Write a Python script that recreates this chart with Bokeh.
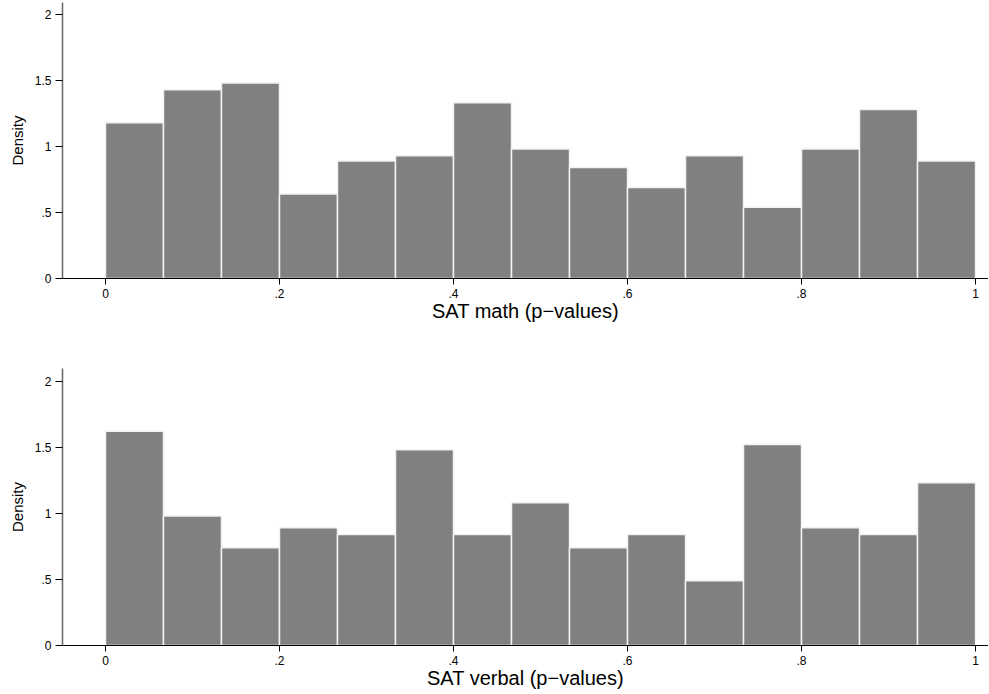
import numpy as np
from bokeh.plotting import figure
from bokeh.layouts import column
from bokeh.models import Range1d, FixedTicker, ColumnDataSource
from bokeh.embed import file_html
from bokeh.resources import INLINE

# ---- data (densities) ----
n_bins = 15
math_density = [1.18, 1.43, 1.48, 0.64, 0.89, 0.93, 1.33, 0.98, 0.84, 0.69, 0.93, 0.54, 0.98, 1.28, 0.89]
verbal_density = [1.62, 0.98, 0.74, 0.89, 0.84, 1.48, 0.84, 1.08, 0.74, 0.84, 0.49, 1.52, 0.89, 0.84, 1.23]
x_ticks = [0, 0.2, 0.4, 0.6, 0.8, 1.0]
x_tick_labels = ["0", ".2", ".4", ".6", ".8", "1"]
y_ticks = [0, 0.5, 1.0, 1.5, 2.0]
y_tick_labels = ["0", ".5", "1", "1.5", "2"]
titles = ["SAT math (p\u2212values)", "SAT verbal (p\u2212values)"]

FONT = "Liberation Sans"
edges = np.linspace(0, 1, n_bins + 1)


def make_panel(dens, xlabel, height, y_end, top_border, bottom_border):
    p = figure(width=988, height=height, output_backend="svg", toolbar_location=None,
               x_range=Range1d(-0.0494, 1.0149), y_range=Range1d(0, y_end),
               min_border_left=62, min_border_right=0,
               min_border_top=top_border, min_border_bottom=bottom_border)
    src = ColumnDataSource(dict(left=edges[:-1], right=edges[1:], top=dens,
                                bottom=[0] * len(dens)))
    p.quad(left="left", right="right", top="top", bottom="bottom", source=src,
           fill_color="#808080", line_color="#f2f2f2", line_width=1.5)
    p.grid.visible = False
    p.outline_line_color = None
    p.background_fill_color = "white"
    p.border_fill_color = "white"

    xa = p.xaxis[0]
    xa.ticker = FixedTicker(ticks=x_ticks)
    xa.major_label_overrides = {t: l for t, l in zip(x_ticks, x_tick_labels)}
    xa.minor_tick_line_color = None
    xa.major_tick_out = 6
    xa.major_tick_in = 0
    xa.major_label_standoff = 4
    xa.axis_line_color = "black"
    xa.major_tick_line_color = "black"
    xa.major_label_text_font = FONT
    xa.major_label_text_font_size = "12px"
    xa.major_label_text_color = "black"
    xa.axis_label = xlabel
    xa.axis_label_text_font = FONT
    xa.axis_label_text_font_size = "20px"
    xa.axis_label_text_font_style = "normal"
    xa.axis_label_text_color = "black"
    xa.axis_label_standoff = -1

    ya = p.yaxis[0]
    ya.ticker = FixedTicker(ticks=y_ticks)
    ya.major_label_overrides = {t: l for t, l in zip(y_ticks, y_tick_labels)}
    ya.minor_tick_line_color = None
    ya.major_tick_out = 7
    ya.major_tick_in = 0
    ya.major_label_standoff = 4
    ya.axis_line_color = "#666666"
    ya.axis_line_width = 1.5
    ya.major_tick_line_color = "black"
    ya.major_label_text_font = FONT
    ya.major_label_text_font_size = "12px"
    ya.major_label_text_color = "black"
    ya.axis_label = "Density"
    ya.axis_label_text_font = FONT
    ya.axis_label_text_font_size = "15px"
    ya.axis_label_text_font_style = "normal"
    ya.axis_label_text_color = "black"
    ya.axis_label_standoff = 6
    return p


p1 = make_panel(math_density, titles[0], 350, 2.09, 2, 72)
p2 = make_panel(verbal_density, titles[1], 343, 2.095, 18, 48)
layout = column(p1, p2, spacing=0)

open("out.html", "w").write(file_html(layout, INLINE))
